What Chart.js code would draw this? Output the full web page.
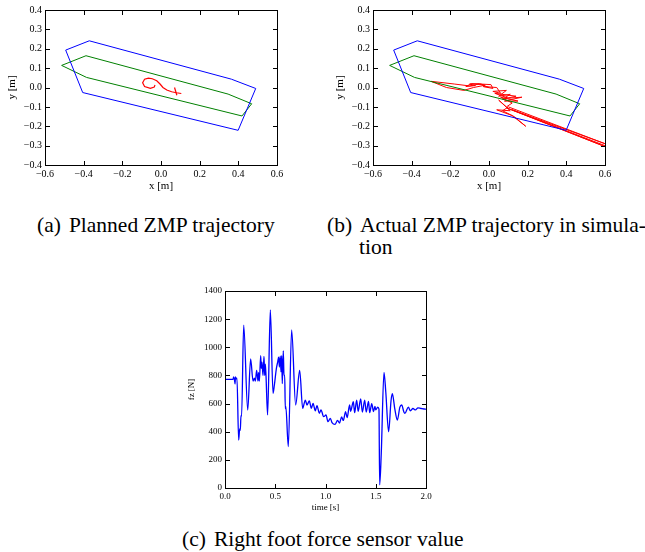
<!DOCTYPE html>
<html>
<head>
<meta charset="utf-8">
<script src="https://cdn.jsdelivr.net/npm/chart.js@4"></script>
<style>
  body { margin: 0; background: #fff; width: 645px; height: 552px; position: relative; overflow: hidden; }
  canvas { position: absolute; }
  .cap { position: absolute; font-family: "Liberation Serif", serif; font-size: 21.5px; line-height: 22px; color: #000; white-space: nowrap; }
  .cap span.t { margin-left: 8px; }
  .frame { position: absolute; box-sizing: border-box; border: 1px solid #000; pointer-events: none; }
  .tick { position: absolute; background: #000; pointer-events: none; }
</style>
</head>
<body>
<canvas id="planned" width="290" height="195" style="left:0;top:0"></canvas>
<canvas id="actual" width="290" height="195" style="left:328px;top:0"></canvas>
<canvas id="force" width="260" height="235" style="left:180px;top:280px"></canvas>
<div class="cap" style="left:37px;top:214px"><span>(a)</span><span class="t">Planned ZMP trajectory</span></div>
<div class="cap" style="left:327px;top:214px"><span>(b)</span><span class="t">Actual ZMP trajectory in simula-</span></div>
<div class="cap" style="left:359px;top:236px">tion</div>
<div class="cap" style="left:182px;top:528px"><span>(c)</span><span class="t">Right foot force sensor value</span></div>
<script>
// support polygon (blue) and ZMP limit (green), shared by (a) and (b)
const outerX = [-0.493, -0.371, 0.364, 0.490, 0.399, -0.405, -0.493];
const outerY = [0.193, 0.241, 0.043, -0.005, -0.221, -0.026, 0.193];
const innerX = [-0.514, -0.388, 0.347, 0.469, 0.419, -0.385, -0.514];
const innerY = [0.114, 0.164, -0.034, -0.084, -0.147, 0.052, 0.114];

// planned ZMP (a)
const plannedX = [-0.031, -0.035, -0.055, -0.085, -0.095, -0.085, -0.065, -0.045, -0.022, -0.005, 0.010, 0.030, 0.055, 0.080, 0.105];
const plannedY = [0.013, 0.002, -0.004, 0.005, 0.025, 0.043, 0.048, 0.045, 0.035, 0.018, 0.000, -0.013, -0.022, -0.027, -0.031];
const markX = [0.070, 0.082];
const markY = [0.000, -0.040];

// actual ZMP in simulation (b)
const actualX = [0.00, -0.04, -0.09, -0.12, -0.07, -0.10, -0.05, -0.02, -0.08, -0.13, -0.22, -0.30, -0.18, -0.10, -0.05, 0.01, 0.02, -0.03, 0.04, 0.06, 0.02, 0.09, 0.05, 0.11, 0.07, 0.14, 0.03, 0.10, 0.17, 0.08, 0.15, 0.06, 0.12, 0.09, 0.05, 0.11, 0.04, 0.12, 0.19, 0.13, 0.07, 0.10, 0.60, 0.12, 0.60, 0.09, 0.60];
const actualY = [0.000, 0.015, 0.020, 0.005, 0.010, 0.018, 0.020, 0.012, 0.000, -0.015, 0.000, 0.032, 0.018, 0.008, 0.018, 0.015, -0.005, 0.005, 0.000, -0.030, -0.020, -0.015, -0.045, -0.035, -0.060, -0.045, -0.030, -0.055, -0.050, -0.070, -0.070, -0.050, -0.080, -0.100, -0.065, -0.120, -0.115, -0.145, -0.200, -0.150, -0.120, -0.100, -0.290, -0.115, -0.305, -0.105, -0.300];

// right foot force sensor (c)
const timeS = [0, 0.08, 0.086, 0.093, 0.1, 0.104, 0.11, 0.119, 0.136, 0.146, 0.152, 0.159, 0.165, 0.186, 0.226, 0.255, 0.279, 0.292, 0.302, 0.315, 0.328, 0.335, 0.342, 0.355, 0.361, 0.368, 0.378, 0.388, 0.395, 0.401, 0.408, 0.424, 0.451, 0.478, 0.491, 0.511, 0.524, 0.534, 0.541, 0.55, 0.557, 0.564, 0.57, 0.58, 0.587, 0.594, 0.6, 0.605, 0.63, 0.663, 0.703, 0.743, 0.773, 0.799, 0.816, 0.839, 0.859, 0.876, 0.899, 0.915, 0.939, 0.955, 0.982, 1.005, 1.025, 1.048, 1.065, 1.094, 1.12, 1.14, 1.16, 1.177, 1.2, 1.215, 1.24, 1.25, 1.277, 1.29, 1.31, 1.325, 1.35, 1.367, 1.39, 1.405, 1.428, 1.44, 1.46, 1.478, 1.492, 1.5, 1.52, 1.532, 1.539, 1.555, 1.582, 1.6, 1.628, 1.652, 1.665, 1.69, 1.715, 1.74, 1.758, 1.78, 1.79, 1.824, 1.845, 1.87, 1.895, 1.92, 1.95, 1.995, 2.0];
const forceN = [772, 772, 790, 775, 740, 790, 775, 780, 341, 420, 410, 515, 510, 1158, 554, 917, 760, 780, 760, 835, 760, 820, 760, 940, 850, 895, 800, 935, 800, 880, 800, 519, 1265, 673, 730, 848, 895, 930, 860, 937, 825, 940, 742, 975, 800, 800, 565, 580, 294, 1123, 590, 835, 566, 625, 590, 619, 566, 602, 548, 586, 531, 555, 507, 519, 471, 495, 465, 452, 480, 462, 505, 480, 543, 500, 590, 545, 614, 535, 625, 545, 633, 540, 625, 540, 615, 535, 600, 543, 580, 555, 575, 560, 22, 250, 822, 680, 400, 620, 670, 560, 483, 575, 590, 540, 530, 575, 548, 565, 555, 570, 565, 560, 561];

const pairs = (xs, ys) => xs.map((x, i) => ({ x: x, y: ys[i] }));

const fmt = v => {
  if (Math.abs(v) < 1e-9) return '0.0';
  return (v < 0 ? '\u2212' : '') + Math.abs(v).toFixed(1);
};

const serif = size => ({ family: "'Liberation Serif', serif", size: size });

function axes(opt) {
  return {
    x: {
      type: 'linear', min: opt.xmin, max: opt.xmax,
      grid: { display: false, drawTicks: false }, border: { display: false },
      ticks: { stepSize: opt.xstep, color: '#000', font: serif(opt.tick), padding: 3, maxRotation: 0, callback: opt.xfmt },
      title: { display: true, text: opt.xtitle, color: '#000', font: serif(opt.title), padding: { top: 2, bottom: 2 } },
      afterFit: s => { s.height = opt.xh; }
    },
    y: {
      type: 'linear', min: opt.ymin, max: opt.ymax,
      grid: { display: false, drawTicks: false }, border: { display: false },
      ticks: { stepSize: opt.ystep, color: '#000', font: serif(opt.tick), padding: 3, callback: opt.yfmt },
      title: { display: true, text: opt.ytitle, color: '#000', font: serif(opt.title), padding: { top: 6, bottom: 2 } },
      afterFit: s => { s.width = opt.yw; }
    }
  };
}

function line(data, color, width) {
  return { data: data, showLine: true, borderColor: color, borderWidth: width, pointRadius: 0 };
}

// matplotlib-like box with inward ticks on all four sides, laid over the canvas
function addFrame(chart) {
  const c = chart.canvas;
  const a = chart.chartArea;
  const ox = c.offsetLeft, oy = c.offsetTop;
  const l = Math.round(a.left), r = Math.round(a.right);
  const t = Math.round(a.top), b = Math.round(a.bottom);
  const put = (cls, x, y, w, h) => {
    const d = document.createElement('div');
    d.className = cls;
    d.style.left = (ox + x) + 'px';
    d.style.top = (oy + y) + 'px';
    d.style.width = w + 'px';
    d.style.height = h + 'px';
    document.body.appendChild(d);
  };
  put('frame', l, t, r - l + 1, b - t + 1);
  chart.scales.x.ticks.forEach(tk => {
    const p = Math.round(chart.scales.x.getPixelForValue(tk.value));
    put('tick', p, b - 4, 1, 4);
    put('tick', p, t + 1, 1, 4);
  });
  chart.scales.y.ticks.forEach(tk => {
    const p = Math.round(chart.scales.y.getPixelForValue(tk.value));
    put('tick', l + 1, p, 4, 1);
    put('tick', r - 4, p, 4, 1);
  });
}

function zmpChart(id, datasets) {
  return new Chart(document.getElementById(id), {
    type: 'scatter',
    data: { datasets: datasets },
    options: {
      responsive: false, animation: false, devicePixelRatio: 1,
      layout: { padding: { top: 10, right: 13, left: 0, bottom: 0 } },
      plugins: { legend: { display: false }, tooltip: { enabled: false } },
      scales: axes({ xmin: -0.6, xmax: 0.6, xstep: 0.2, ymin: -0.4, ymax: 0.4, ystep: 0.1, xfmt: fmt, yfmt: fmt,
        xtitle: 'x [m]', ytitle: 'y [m]', tick: 10, title: 11, xh: 30, yw: 45 })
    }
  });
}

const plannedChart = zmpChart('planned', [
  line(pairs(outerX, outerY), '#0000ff', 1),
  line(pairs(innerX, innerY), '#008000', 1),
  line(pairs(plannedX, plannedY), '#ff0000', 1.2),
  line(pairs(markX, markY), '#ff0000', 1.2)
]);

const actualChart = zmpChart('actual', [
  line(pairs(outerX, outerY), '#0000ff', 1),
  line(pairs(innerX, innerY), '#008000', 1),
  line(pairs(actualX, actualY), '#ff0000', 1)
]);

const forceSet = line(pairs(timeS, forceN), '#0000ff', 1.3);
forceSet.cubicInterpolationMode = 'monotone';

const forceChart = new Chart(document.getElementById('force'), {
  type: 'scatter',
  data: { datasets: [forceSet] },
  options: {
    responsive: false, animation: false, devicePixelRatio: 1,
    layout: { padding: { top: 11, right: 14, left: 0, bottom: 0 } },
    plugins: { legend: { display: false }, tooltip: { enabled: false } },
    scales: axes({ xmin: 0, xmax: 2, xstep: 0.5, ymin: 0, ymax: 1400, ystep: 200, xfmt: v => v.toFixed(1), yfmt: v => String(v),
      xtitle: 'time [s]', ytitle: 'fz [N]', tick: 9, title: 9, xh: 27, yw: 45 })
  }
});

[plannedChart, actualChart, forceChart].forEach(addFrame);
</script>
</body>
</html>
